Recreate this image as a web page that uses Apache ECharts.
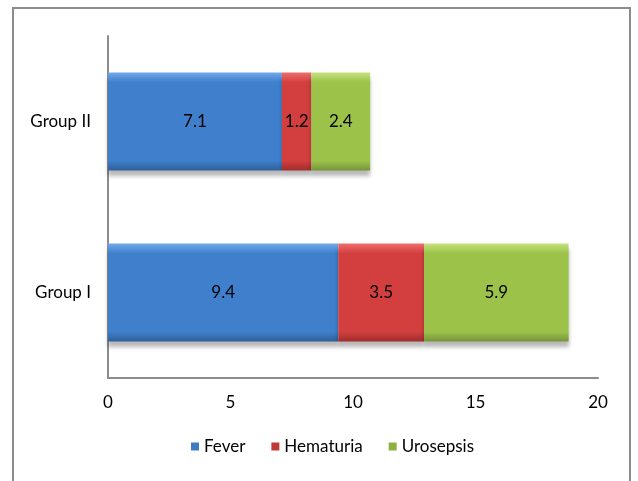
<!DOCTYPE html>
<html>
<head>
    <meta charset="utf-8" />
    <title></title>
    <script src="https://cdn.jsdelivr.net/npm/echarts@6/dist/echarts.min.js"></script>
    <style>
        body { margin: 0; background: #fff; }
        #frame { position: absolute; left: 12px; top: 7px; width: 619px; height: 480px; border: 2px solid #8c8c8c; border-bottom: none; box-sizing: border-box; }
        #main { position: absolute; left: 0; top: 0; width: 638px; height: 481px; }
    </style>
</head>
<body>
<div id="frame"></div>
<div id="main"></div>
<script type="text/javascript">
    var groups = ['Group I', 'Group II'];
    var fever = [9.4, 7.1];
    var hematuria = [3.5, 1.2];
    var urosepsis = [5.9, 2.4];
    var xTicks = [0, 5, 10, 15, 20];

    var font = 'Lato, "Open Sans", sans-serif';

    // excel-like bevel: light top edge, dark bottom
    function bevel(light, main, dark) {
        return new echarts.graphic.LinearGradient(0, 0, 0, 1, [
            { offset: 0, color: light },
            { offset: 0.1, color: main },
            { offset: 0.9, color: main },
            { offset: 1, color: dark }
        ]);
    }

    function makeSeries(name, data, light, main, dark) {
        return {
            name: name,
            type: 'bar',
            stack: 'all',
            data: data,
            barWidth: 98,
            itemStyle: {
                color: bevel(light, main, dark),
                shadowColor: 'rgba(0,0,0,0.28)',
                shadowBlur: 4,
                shadowOffsetY: 5
            },
            label: {
                show: true,
                position: 'inside',
                color: '#000',
                fontFamily: font,
                fontSize: 17
            },
            animation: false
        };
    }

    var myChart = echarts.init(document.getElementById('main'));
    myChart.setOption({
        backgroundColor: 'transparent',
        grid: { left: 108, right: 40, top: 36, bottom: 103 },
        legend: {
            bottom: 21,
            left: 186,
            icon: 'rect',
            itemWidth: 8,
            itemHeight: 8,
            itemGap: 26,
            textStyle: { fontFamily: font, fontSize: 17, color: '#000' },
            data: [
                { name: 'Fever', itemStyle: { color: '#3f7bc4' } },
                { name: 'Hematuria', itemStyle: { color: '#c03a37' } },
                { name: 'Urosepsis', itemStyle: { color: '#8db13f' } }
            ]
        },
        xAxis: {
            type: 'value',
            min: xTicks[0],
            max: xTicks[xTicks.length - 1],
            interval: 5,
            axisLine: { show: true, lineStyle: { color: '#8c8c8c', width: 2 } },
            axisTick: { show: false },
            splitLine: { show: false },
            axisLabel: { margin: 16, color: '#000', fontFamily: font, fontSize: 17 }
        },
        yAxis: {
            type: 'category',
            data: groups,
            axisLine: { show: true, lineStyle: { color: '#8c8c8c', width: 2 } },
            axisTick: { show: false },
            axisLabel: { margin: 17, color: '#000', fontFamily: font, fontSize: 17 }
        },
        series: [
            makeSeries('Fever', fever, '#72aaea', '#3f7fcc', '#2f5f99'),
            makeSeries('Hematuria', hematuria, '#ee6e6e', '#d33f3f', '#a02c2c'),
            makeSeries('Urosepsis', urosepsis, '#c6e37e', '#9cc24a', '#76943a')
        ]
    });
</script>
</body>
</html>
